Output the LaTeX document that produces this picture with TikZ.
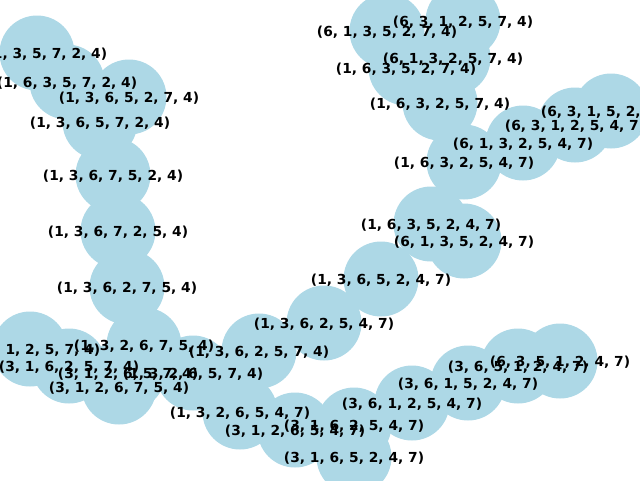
\documentclass[tikz,border=0pt]{standalone}
\usepackage{fontspec}
\setmainfont{DejaVu Sans}
\definecolor{nodeblue}{RGB}{173,216,230}
\tikzset{
  vertex/.style={circle, fill=nodeblue, draw=none, minimum size=75pt, inner sep=0pt},
  vlabel/.style={inner sep=0pt, yshift=-1pt, font=\fontsize{13.8}{16}\selectfont\bfseries, text=black}
}
\begin{document}
\begin{tikzpicture}[x=1pt,y=-1pt]
\useasboundingbox (0,0) rectangle (640,480);
% circles
\node[vertex] (n1) at (37,53) {};
\node[vertex] (n2) at (67,82) {};
\node[vertex] (n3) at (129,97) {};
\node[vertex] (n4) at (100,122) {};
\node[vertex] (n5) at (113,175) {};
\node[vertex] (n6) at (118,231) {};
\node[vertex] (n7) at (127,287) {};
\node[vertex] (n8) at (144,345) {};
\node[vertex] (n9) at (30,349) {};
\node[vertex] (n10) at (69,366) {};
\node[vertex] (n11) at (128,373) {};
\node[vertex] (n12) at (193,373) {};
\node[vertex] (n13) at (119,387) {};
\node[vertex] (n14) at (259,351) {};
\node[vertex] (n15) at (324,323) {};
\node[vertex] (n16) at (381,279) {};
\node[vertex] (n17) at (431,224) {};
\node[vertex] (n18) at (464,241) {};
\node[vertex] (n19) at (464,162) {};
\node[vertex] (n20) at (523,143) {};
\node[vertex] (n21) at (575,125) {};
\node[vertex] (n22) at (611,111) {};
\node[vertex] (n23) at (440,103) {};
\node[vertex] (n24) at (406,68) {};
\node[vertex] (n25) at (453,58) {};
\node[vertex] (n26) at (387,31) {};
\node[vertex] (n27) at (463,21) {};
\node[vertex] (n28) at (240,412) {};
\node[vertex] (n29) at (295,430) {};
\node[vertex] (n30) at (354,425) {};
\node[vertex] (n31) at (354,457) {};
\node[vertex] (n32) at (412,403) {};
\node[vertex] (n33) at (468,383) {};
\node[vertex] (n34) at (518,366) {};
\node[vertex] (n35) at (560,361) {};
% labels
\node[vlabel] (l1) at (n1) {(6, 1, 3, 5, 7, 2, 4)};
\node[vlabel] (l2) at (n2) {(1, 6, 3, 5, 7, 2, 4)};
\node[vlabel] (l3) at (n3) {(1, 3, 6, 5, 2, 7, 4)};
\node[vlabel] (l4) at (n4) {(1, 3, 6, 5, 7, 2, 4)};
\node[vlabel] (l5) at (n5) {(1, 3, 6, 7, 5, 2, 4)};
\node[vlabel] (l6) at (n6) {(1, 3, 6, 7, 2, 5, 4)};
\node[vlabel] (l7) at (n7) {(1, 3, 6, 2, 7, 5, 4)};
\node[vlabel] (l8) at (n8) {(1, 3, 2, 6, 7, 5, 4)};
\node[vlabel] (l9) at (n9) {(3, 6, 1, 2, 5, 7, 4)};
\node[vlabel] (l10) at (n10) {(3, 1, 6, 2, 5, 7, 4)};
\node[vlabel] (l11) at (n11) {(3, 1, 2, 6, 5, 7, 4)};
\node[vlabel] (l12) at (n12) {(1, 3, 2, 6, 5, 7, 4)};
\node[vlabel] (l13) at (n13) {(3, 1, 2, 6, 7, 5, 4)};
\node[vlabel] (l14) at (n14) {(1, 3, 6, 2, 5, 7, 4)};
\node[vlabel] (l15) at (n15) {(1, 3, 6, 2, 5, 4, 7)};
\node[vlabel] (l16) at (n16) {(1, 3, 6, 5, 2, 4, 7)};
\node[vlabel] (l17) at (n17) {(1, 6, 3, 5, 2, 4, 7)};
\node[vlabel] (l18) at (n18) {(6, 1, 3, 5, 2, 4, 7)};
\node[vlabel] (l19) at (n19) {(1, 6, 3, 2, 5, 4, 7)};
\node[vlabel] (l20) at (n20) {(6, 1, 3, 2, 5, 4, 7)};
\node[vlabel] (l21) at (n21) {(6, 3, 1, 2, 5, 4, 7)};
\node[vlabel] (l22) at (n22) {(6, 3, 1, 5, 2, 4, 7)};
\node[vlabel] (l23) at (n23) {(1, 6, 3, 2, 5, 7, 4)};
\node[vlabel] (l24) at (n24) {(1, 6, 3, 5, 2, 7, 4)};
\node[vlabel] (l25) at (n25) {(6, 1, 3, 2, 5, 7, 4)};
\node[vlabel] (l26) at (n26) {(6, 1, 3, 5, 2, 7, 4)};
\node[vlabel] (l27) at (n27) {(6, 3, 1, 2, 5, 7, 4)};
\node[vlabel] (l28) at (n28) {(1, 3, 2, 6, 5, 4, 7)};
\node[vlabel] (l29) at (n29) {(3, 1, 2, 6, 5, 4, 7)};
\node[vlabel] (l30) at (n30) {(3, 1, 6, 2, 5, 4, 7)};
\node[vlabel] (l31) at (n31) {(3, 1, 6, 5, 2, 4, 7)};
\node[vlabel] (l32) at (n32) {(3, 6, 1, 2, 5, 4, 7)};
\node[vlabel] (l33) at (n33) {(3, 6, 1, 5, 2, 4, 7)};
\node[vlabel] (l34) at (n34) {(3, 6, 5, 1, 2, 4, 7)};
\node[vlabel] (l35) at (n35) {(6, 3, 5, 1, 2, 4, 7)};
\end{tikzpicture}
\end{document}
